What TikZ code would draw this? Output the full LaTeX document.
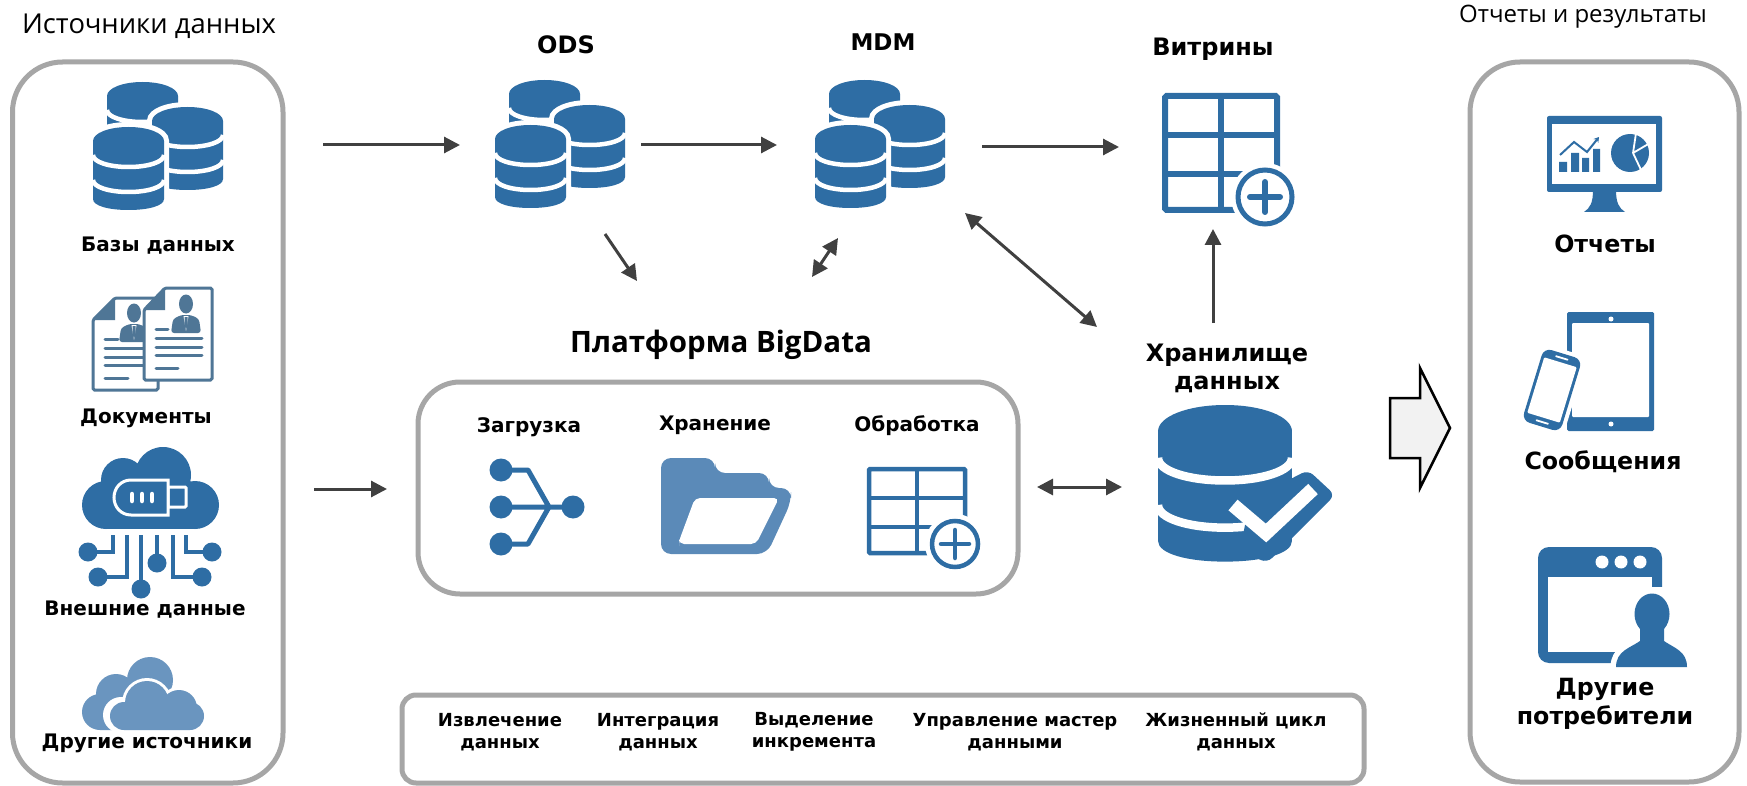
\documentclass[tikz,border=0pt]{standalone}
\usepackage{fontspec}
\setmainfont{DejaVu Sans}
\newfontfamily\headfont{Open Sans}
\usetikzlibrary{arrows.meta}
\definecolor{iconblue}{HTML}{2E6DA4}
\definecolor{docblue}{HTML}{4F7696}
\definecolor{folderblue}{HTML}{5B8AB8}
\definecolor{cloudblue}{HTML}{6A95BF}
\definecolor{panelgrey}{HTML}{A6A6A6}
\definecolor{arrowgrey}{HTML}{404040}
\tikzset{
  panel/.style={draw=panelgrey,line width=5pt,fill=white,rounded corners=#1,inner sep=0pt},
  lbl/.style={font=\fontsize{20}{24}\selectfont\bfseries,inner sep=0pt,align=center,text=black},
  biglbl/.style={font=\fontsize{23.7}{29}\selectfont\bfseries,inner sep=0pt,align=center,text=black},
  smalllbl/.style={font=\fontsize{18}{22}\selectfont\bfseries,inner sep=0pt,align=center,text=black},
  subtitle/.style={inner sep=0pt,text=black},
  flow/.style={draw=arrowgrey,line width=3pt,>={Triangle[length=16pt,width=16pt]}},
  doctwo/.style={draw=docblue,line width=3pt,fill=white,rounded corners=1.5pt},
  docline/.style={draw=docblue,line width=3pt,line cap=round},
  wire/.style={draw=iconblue,line width=3.5pt},
}
\newcommand\cylpath{(0,14) .. controls (0,6) and (16,0) .. (35.5,0) .. controls (55,0) and (71,6) .. (71,14) -- (71,72) .. controls (71,79) and (55,83) .. (35.5,83) .. controls (16,83) and (0,79) .. (0,72) -- cycle}
\newcommand\cylicon[3]{%
\begin{scope}[shift={(#1,#2)},scale=#3]
\draw[white,line width=#3*10pt] \cylpath;
\fill[iconblue] \cylpath;
\draw[white,line width=#3*4.5pt] (0,28) .. controls (0,35) and (16,40) .. (35.5,40) .. controls (55,40) and (71,35) .. (71,28);
\draw[white,line width=#3*4.5pt] (0,53) .. controls (0,60) and (16,65) .. (35.5,65) .. controls (55,65) and (71,60) .. (71,53);
\end{scope}}
\newcommand\dbtriple[2]{%
\cylicon{\numexpr#1+14\relax}{\numexpr#2-45\relax}{1}%
\cylicon{\numexpr#1+59\relax}{\numexpr#2-20\relax}{1}%
\cylicon{#1}{#2}{1}}
\newcommand\suitman[2]{%
\fill[docblue] (#1,#2) ellipse (7pt and 9.5pt);
\fill[docblue,rounded corners=3pt] (#1-15,#2+29) -- (#1-13,#2+15) -- (#1-5,#2+11) -- (#1+5,#2+11) -- (#1+13,#2+15) -- (#1+15,#2+29) -- cycle;
\fill[white] (#1-2.5,#2+12) -- (#1+2.5,#2+12) -- (#1,#2+27) -- cycle;
\fill[docblue] (#1-1.5,#2+13) -- (#1+1.5,#2+13) -- (#1+1.5,#2+22) -- (#1,#2+25) -- (#1-1.5,#2+22) -- cycle;}
\begin{document}
\begin{tikzpicture}[x=1pt,y=-1pt]
\useasboundingbox (0,0) rectangle (1747,786);
% panels
\node[panel=50pt,minimum width=270.5pt,minimum height=721pt] (srcpanel) at (147.75,422.5) {};
\node[panel=50pt,minimum width=269pt,minimum height=720pt] (outpanel) at (1604.5,422) {};
\node[panel=42pt,minimum width=600pt,minimum height=212pt] (platform) at (718,488) {};
\node[panel=14pt,minimum width=962pt,minimum height=88pt] (opspanel) at (883,739) {};
% titles
\node[subtitle,font=\headfont\fontsize{27.4}{32}\selectfont] (srctitle) at (149,26) {Источники данных};
\node[subtitle,font=\headfont\fontsize{24}{30}\selectfont] (outtitle) at (1583,17) {Отчеты и результаты};
\node[lbl,font=\fontsize{24}{28}\selectfont\bfseries] (ods) at (566,45) {ODS};
\node[lbl,font=\fontsize{23}{28}\selectfont\bfseries] (mdm) at (883,42) {MDM};
\node[lbl,font=\fontsize{24}{28}\selectfont\bfseries] (vitr) at (1213,49) {Витрины};
\node[font=\headfont\fontsize{29.5}{36}\selectfont\bfseries,inner sep=0pt] (bigdata) at (721,345) {Платформа BigData};
\node[biglbl,font=\fontsize{24}{28}\selectfont\bfseries] (dwh) at (1227,368) {Хранилище\\данных};
% source labels
\node[lbl] (lbldb) at (158,246) {Базы данных};
\node[lbl] (lbldoc) at (146,418) {Документы};
\node[lbl] (lblext) at (145,610) {Внешние данные};
\node[lbl] (lbloth) at (147,743) {Другие источники};
\node[lbl] (lblload) at (529,427) {Загрузка};
\node[lbl] (lblstore) at (715,425) {Хранение};
\node[lbl] (lblproc) at (917,426) {Обработка};
\node[biglbl] (lblrep) at (1605,244) {Отчеты};
\node[biglbl] (lblmsg) at (1603,462) {Сообщения};
\node[biglbl] (lblcons) at (1605,704) {Другие\\потребители};
% bottom panel
\node[smalllbl] (opa) at (500,732) {Извлечение\\данных};
\node[smalllbl] (opb) at (658,732) {Интеграция\\данных};
\node[smalllbl] (opc) at (814,732) {Выделение\\инкремента};
\node[smalllbl] (opd) at (1015,732) {Управление мастер\\данными};
\node[smalllbl] (ope) at (1236,732) {Жизненный цикл\\данных};
% database triples
\dbtriple{93}{127}
\dbtriple{495}{125}
\dbtriple{815}{125}
% documents
\draw[doctwo] (93,320) -- (115,298) -- (158,298) -- (158,390) -- (93,390) -- cycle;
\fill[docblue] (93,320) -- (115,298) -- (115,320) -- cycle;
\suitman{134}{313}
\foreach \yy/\xx in {339/118,348/150,357/150,365/150,378/128}{\draw[docline] (105,\yy) -- (\xx,\yy);}
\draw[doctwo] (144,310) -- (165,288) -- (212,288) -- (212,380) -- (144,380) -- cycle;
\fill[docblue] (144,310) -- (165,288) -- (165,310) -- cycle;
\suitman{186}{304}
\foreach \yy/\xx in {338/202,347/202,355/202,368/178}{\draw[docline] (156,\yy) -- (\xx,\yy);}
\draw[docline] (156,329) -- (168,329);
% cloud with usb
\fill[iconblue] (163,475) circle (28pt) (123,480) circle (22pt) (106,505) circle (24pt) (195,505) circle (24pt);
\fill[iconblue] (106,490) rectangle (195,529);
\fill[iconblue] (123,480) rectangle (190,500);
\draw[white,line width=3pt,fill=iconblue,rounded corners=1pt] (168,487) rectangle (186,507);
\draw[white,line width=3pt,fill=iconblue] (168,480) -- (131,480) .. controls (121,480) and (114,488) .. (114,497.5) .. controls (114,507) and (121,515) .. (131,515) -- (168,515) -- cycle;
\foreach \xx in {132,142,152}{\draw[white,line width=4.5pt,line cap=round] (\xx,494) -- (\xx,501);}
\draw[wire] (113,535) |- (88,552);
\draw[wire] (127,535) |- (98,577);
\draw[wire] (141,535) -- (141,589);
\draw[wire] (157,535) -- (157,563);
\draw[wire] (173,535) |- (202,577);
\draw[wire] (186,535) |- (212,552);
\fill[iconblue] (88,552) circle (9.5pt) (98,577) circle (9.5pt) (141,589) circle (9.5pt) (157,563) circle (9.5pt) (202,577) circle (9.5pt) (212,552) circle (9.5pt);
% other clouds
\fill[cloudblue] (150,680) circle (23pt) (116,694) circle (20pt) (100,712) circle (18pt) (100,694) rectangle (150,730);
\fill[white] (147,703) circle (25pt) (179,708) circle (21pt) (121,715) circle (18pt) (190,716) circle (17pt) (121,700) rectangle (190,733);
\fill[cloudblue] (147,703) circle (22pt) (179,708) circle (18pt) (124,716) circle (14pt) (190,716) circle (14pt) (124,705) rectangle (190,730);
% big arrow
\draw[draw=black,fill=black!5,line width=2.5pt,line join=miter] (1390,398) -- (1420,398) -- (1420,368) -- (1450,428) -- (1420,488) -- (1420,458) -- (1390,458) -- cycle;
% vitriny table
\draw[iconblue,line width=6pt,rounded corners=1.5pt] (1165,96) rectangle (1277,210);
\draw[iconblue,line width=6pt] (1221,96) -- (1221,210) (1165,135) -- (1277,135) (1165,174) -- (1277,174);
\fill[white] (1265,197) circle (34pt);
\draw[iconblue,line width=5pt] (1265,197) circle (27pt);
\draw[iconblue,line width=6pt,line cap=round] (1250,197) -- (1280,197) (1265,182) -- (1265,212);
% processing table
\draw[iconblue,line width=4.5pt,rounded corners=1pt] (869,469) rectangle (965,553);
\draw[iconblue,line width=4.5pt] (917,469) -- (917,553) (869,498) -- (965,498) (869,527) -- (965,527);
\fill[white] (955,544) circle (30pt);
\draw[iconblue,line width=4.5pt] (955,544) circle (23pt);
\draw[iconblue,line width=4.5pt,line cap=round] (941,544) -- (969,544) (955,530) -- (955,558);
% fan-in icon
\draw[iconblue,line width=5pt,line join=round] (501,470) -- (528,470) -- (549,507) -- (528,544) -- (501,544) (501,507) -- (573,507);
\fill[iconblue] (501,470) circle (11.5pt) (501,507) circle (11.5pt) (501,544) circle (11.5pt) (573,507) circle (11.5pt);
% folder
\fill[folderblue,rounded corners=10pt] (661,458) -- (715,458) -- (715,473) -- (769,473) -- (769,488) -- (791,488) -- (791,502) -- (767,554) -- (661,554) -- cycle;
\fill[white,rounded corners=5pt] (695,498) -- (779,498) -- (756,544) -- (679,544) -- (679,541) -- cycle;
% warehouse
\cylicon{1158}{405}{1.887}
\fill[iconblue,rounded corners=7pt] (1250,500) -- (1308,470) -- (1335,495) -- (1267,563) -- (1240,550) -- cycle;
\draw[white,line width=14pt,line join=miter] (1233,505) -- (1266,533) -- (1313,489);
% monitor
\fill[iconblue,rounded corners=2pt] (1547,116) rectangle (1662,192);
\fill[white] (1552,124) rectangle (1656,184);
\fill[iconblue] (1593,190) -- (1616,190) .. controls (1616,203) and (1619,208) .. (1625,212) -- (1584,212) .. controls (1590,208) and (1593,203) .. (1593,190) -- cycle;
\fill[iconblue] (1559,162) rectangle (1567,172) (1571,153) rectangle (1579,172) (1582,158) rectangle (1589,172) (1593,149) rectangle (1600,172);
\draw[iconblue,line width=2pt,-{Stealth[length=5pt,width=6pt]}] (1560,155) -- (1574,142) -- (1587,152) -- (1599,137);
\fill[iconblue] (1630,153) circle (19pt);
\draw[white,line width=1.8pt] (1633,153) -- (1636,133) (1633,153) -- (1650,143) (1633,153) -- (1642,172);
% tablet and phone
\fill[iconblue,rounded corners=1.5pt] (1567,312) rectangle (1654,431);
\fill[white,rounded corners=1pt] (1572,323) rectangle (1649,417);
\fill[white] (1611,319) circle (2.5pt) (1611,424) circle (2.5pt);
\begin{scope}[shift={(1552,390)},rotate=-17]
\draw[white,line width=8pt,rounded corners=8pt] (-20,-38) rectangle (20,38);
\fill[iconblue,rounded corners=8pt] (-20,-38) rectangle (20,38);
\fill[white,rounded corners=1pt] (-17,-29) rectangle (17,29);
\draw[white,line width=1.8pt,line cap=round] (-6,-33.5) -- (6,-33.5) (-6,33.5) -- (6,33.5);
\end{scope}
% window and person
\fill[iconblue,rounded corners=11pt] (1538,547) rectangle (1662,663);
\fill[white] (1548,577) rectangle (1652,652);
\fill[white] (1602,562) circle (6.5pt) (1621,562) circle (6.5pt) (1640,562) circle (6.5pt);
\fill[white] (1652,587) rectangle (1670,600);
\newcommand\personbody{(1640,625) -- (1640,641) .. controls (1630,648) and (1616,651) .. (1616,667) -- (1687,667) .. controls (1687,651) and (1674,648) .. (1664,641) -- (1664,625) -- cycle}
\draw[white,line width=11pt] \personbody (1652,614) ellipse (17.5pt and 20.5pt);
\fill[iconblue] \personbody (1652,614) ellipse (17.5pt and 20.5pt);
% connector ends
\coordinate (a1) at (323,145); \coordinate (a2) at (460,145);
\coordinate (b1) at (641,145); \coordinate (b2) at (777,145);
\coordinate (c1) at (982,147); \coordinate (c2) at (1119,147);
\coordinate (d1) at (605,234); \coordinate (d2) at (637,281);
\coordinate (e1) at (812,277); \coordinate (e2) at (838,238);
\coordinate (f1) at (965,213); \coordinate (f2) at (1097,327);
\coordinate (g1) at (1213,323); \coordinate (g2) at (1213,229);
\coordinate (h1) at (314,489); \coordinate (h2) at (387,489);
\coordinate (i1) at (1037,487); \coordinate (i2) at (1122,487);
\draw[flow,->] (a1) -- (a2);
\draw[flow,->] (b1) -- (b2);
\draw[flow,->] (c1) -- (c2);
\draw[flow,->] (d1) -- (d2);
\draw[flow,<->] (e1) -- (e2);
\draw[flow,<->] (f1) -- (f2);
\draw[flow,->] (g1) -- (g2);
\draw[flow,->] (h1) -- (h2);
\draw[flow,<->] (i1) -- (i2);
\end{tikzpicture}
\end{document}
